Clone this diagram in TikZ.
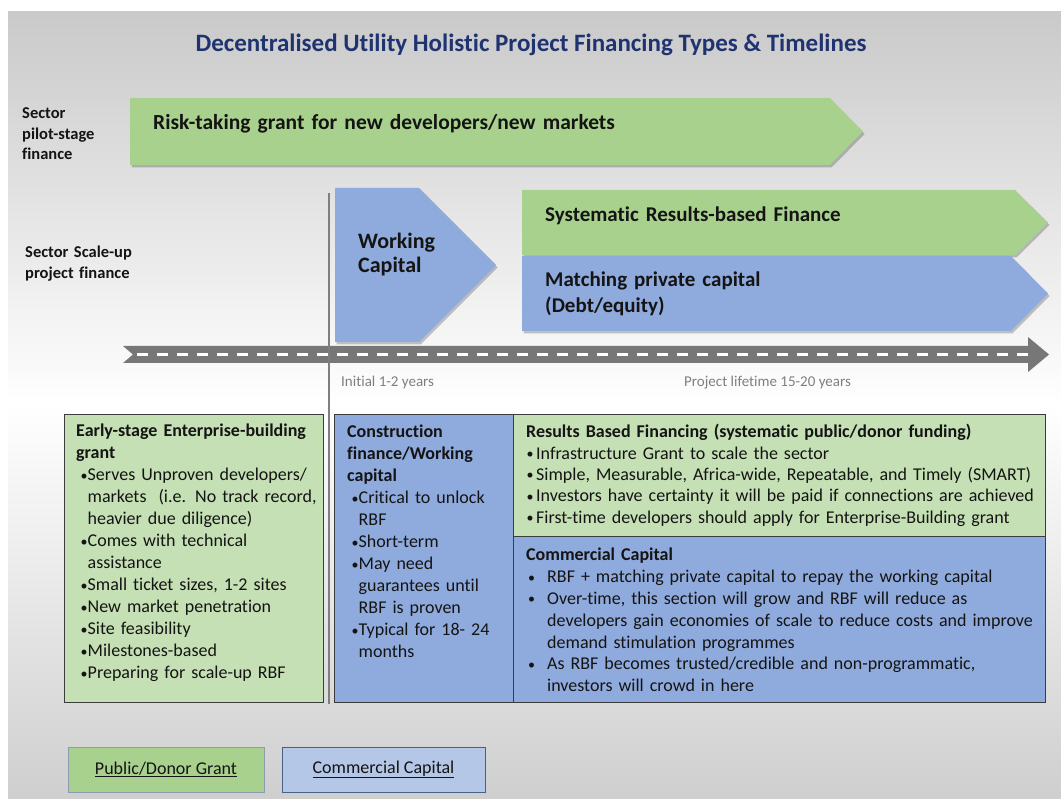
\documentclass[tikz,border=0pt]{standalone}
\usepackage{fontspec}
\setmainfont{Carlito}[Ligatures=NoCommon]
\usetikzlibrary{shadows}

\definecolor{grantgreen}{HTML}{A9D18E}
\definecolor{boxgreen}{HTML}{C5E0B4}
\definecolor{capblue}{HTML}{8FAADC}
\definecolor{legblue}{HTML}{B4C7E7}
\definecolor{titlenavy}{HTML}{1F3370}
\definecolor{roadgray}{HTML}{777777}
\definecolor{edgegray}{HTML}{3C3C3C}
\definecolor{inkdark}{HTML}{141414}
\definecolor{notegray}{HTML}{7F7F7F}
\definecolor{legedgegreen}{HTML}{8C9BB0}
\definecolor{legedgeblue}{HTML}{4A5F86}

\newcommand{\fsz}[2]{\fontsize{#1}{#2}\selectfont}
% a small bullet dot, and bullets with hanging indents for wrapped lines
\newcommand{\dotmark}{\raisebox{0.8pt}{\fsz{14}{14}•}}
\newcommand{\bpt}{\makebox[11.5pt][l]{\hspace{4.5pt}\makebox[0pt][l]{\dotmark}}}
\newcommand{\ind}{\hspace*{11.5pt}}
\newcommand{\bptw}{\makebox[10pt][l]{\hspace{0.5pt}\makebox[0pt][l]{\dotmark}}}
\newcommand{\bptc}{\makebox[21pt][l]{\hspace{2pt}\makebox[0pt][l]{\dotmark}}}
\newcommand{\indc}{\hspace*{21pt}}

\tikzset{
  softshadow/.style={drop shadow={shadow xshift=1.5pt, shadow yshift=-2.5pt, fill=black, opacity=.22}},
  rowlabel/.style={anchor=base west, inner sep=0pt, align=left, text width=150pt,
    font=\fsz{16.5}{20.5}\bfseries, text=inkdark},
  bandtext/.style={anchor=base west, inner sep=0pt, align=left, text width=600pt,
    font=\fsz{21}{26}\bfseries, text=inkdark},
  infobox/.style={draw=edgegray, line width=1.1pt, anchor=north west, inner sep=0pt},
  boxtext/.style={anchor=base west, inner sep=0pt, align=left, text width=560pt,
    font=\fsz{18}{22}, text=inkdark},
  timenote/.style={anchor=base west, inner sep=0pt, font=\fsz{15}{18}, text=notegray},
  legendbox/.style={line width=0.9pt, minimum height=45pt, inner sep=0pt,
    font=\fsz{18}{22}, text=inkdark},
}

\begin{document}
\begin{tikzpicture}[x=1pt, y=-1pt]
\useasboundingbox (0,0) rectangle (1061,799);

% slide background: grey at top and bottom, white in the middle
\shade[top color=gray!42, bottom color=gray!38, middle color=white] (8,12) rectangle (1061,799);

% title
\node[font=\fsz{25}{30}\bfseries, text=titlenavy, inner sep=0pt] (title) at (531,45)
  {Decentralised Utility Holistic Project Financing Types \& Timelines};

% row labels
\node[rowlabel] (pilotlabel) at (22,119) {Sector\\pilot-stage\\finance};
\node[rowlabel] (scalelabel) at (25,258) {Sector Scale-up\\project finance};

% pilot-stage grant band
\fill[grantgreen, softshadow] (130,98) -- (830,98) -- (863,131.5) -- (830,165) -- (130,165) -- cycle;
\node[bandtext, font=\fsz{21.5}{26}\bfseries] (pilottext) at (153,130)
  {Risk-taking grant for new developers/new markets};

% working capital band
\fill[capblue, softshadow] (335,188) -- (419,188) -- (496,265) -- (419,342) -- (335,342) -- cycle;
\node[bandtext, font=\fsz{22}{24}\bfseries, text width=120pt] (wctext) at (358,249)
  {Working\\Capital};

% results-based finance band
\fill[grantgreen, softshadow] (522,190) -- (1015,190) -- (1048,222.5) -- (1015,255) -- (522,255) -- cycle;
\node[bandtext] (rbftext) at (545,222) {Systematic Results-based Finance};

% matching private capital band
\fill[capblue, softshadow] (522,256) -- (1011,256) -- (1048,293.5) -- (1011,331) -- (522,331) -- cycle;
\node[bandtext] (mpctext) at (545,287) {Matching private capital\\(Debt/equity)};

% timeline road
\fill[roadgray] (123,346) -- (1028,346) -- (1028,337) -- (1049,354.5) -- (1028,372)
  -- (1028,363) -- (123,363) -- (133,354.5) -- cycle;
\draw[white, line width=3pt, dash pattern=on 11pt off 9pt] (137,354.5) -- (1036,354.5);

% phase divider
\coordinate (divtop) at (329,193);
\coordinate (divbot) at (329,704);
\draw[notegray, line width=2.5pt] (divtop) -- (divbot);

% timeline notes
\node[timenote] (initnote) at (341,387) {Initial 1-2 years};
\node[timenote] (lifenote) at (684,387) {Project lifetime 15-20 years};

% detail boxes
\node[infobox, fill=boxgreen, minimum width=259pt, minimum height=288pt] (earlybox) at (64,414) {};
\node[infobox, fill=capblue, minimum width=179pt, minimum height=288pt] (constrbox) at (334,414) {};
\node[infobox, fill=boxgreen, minimum width=532pt, minimum height=122pt] (rbfbox) at (513,414) {};
\node[infobox, fill=capblue, minimum width=532pt, minimum height=166pt] (commbox) at (513,536) {};

\node[boxtext] (earlytext) at (76,437)
  {\textbf{Early-stage Enterprise-building}\\
   \textbf{grant}\\
   \bpt Serves Unproven developers/\\
   \ind markets\ \ (i.e. No track record,\\
   \ind heavier due diligence)\\
   \bpt Comes with technical\\
   \ind assistance\\
   \bpt Small ticket sizes, 1-2 sites\\
   \bpt New market penetration\\
   \bpt Site feasibility\\
   \bpt Milestones-based\\
   \bpt Preparing for scale-up RBF};

\node[boxtext] (constrtext) at (347,438)
  {\textbf{Construction}\\
   \textbf{finance/Working}\\
   \textbf{capital}\\
   \bpt Critical to unlock\\
   \ind RBF\\
   \bpt Short-term\\
   \bpt May need\\
   \ind guarantees until\\
   \ind RBF is proven\\
   \bpt Typical for 18- 24\\
   \ind months};

\node[boxtext, font=\fsz{18}{21.3}] (rbftextbox) at (526,438)
  {\textbf{Results Based Financing (systematic public/donor funding)}\\
   \bptw Infrastructure Grant to scale the sector\\
   \bptw Simple, Measurable, Africa-wide, Repeatable, and Timely (SMART)\\
   \bptw Investors have certainty it will be paid if connections are achieved\\
   \bptw First-time developers should apply for Enterprise-Building grant};

\node[boxtext, font=\fsz{18}{21.8}] (commtext) at (526,560)
  {\textbf{Commercial Capital}\\[1pt]
   \bptc RBF + matching private capital to repay the working capital\\
   \bptc Over-time, this section will grow and RBF will reduce as\\
   \indc developers gain economies of scale to reduce costs and improve\\
   \indc demand stimulation programmes\\
   \bptc As RBF becomes trusted/credible and non-programmatic,\\
   \indc investors will crowd in here};

% legend
\node[legendbox, fill=grantgreen, draw=legedgegreen, minimum width=196pt] (leggrant) at (166,769.5)
  {\underline{Public/Donor Grant}};
\node[legendbox, fill=legblue, draw=legedgeblue, minimum width=203pt] (legcap) at (383.5,769.5)
  {\underline{Commercial Capital}};

\end{tikzpicture}
\end{document}
